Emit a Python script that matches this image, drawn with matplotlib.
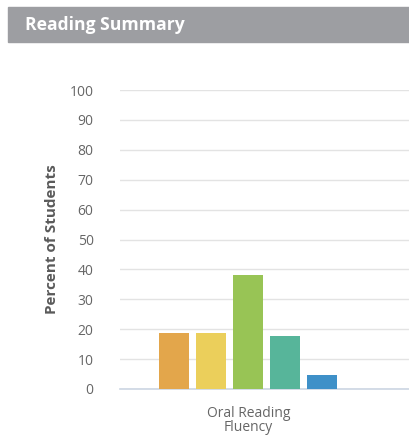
import matplotlib
matplotlib.use("Agg")
import matplotlib.pyplot as plt
from matplotlib.patches import Rectangle

plt.rcParams['font.family'] = ['Open Sans', 'DejaVu Sans']

categories = ["Oral Reading\nFluency"]
levels = ["L1", "L2", "L3", "L4", "L5"]
values = [18.7, 18.7, 38.2, 17.6, 4.8]
colors = ["#E3A64B", "#EBCF5B", "#98C455", "#57B59A", "#3E90C8"]
yticks = [0, 10, 20, 30, 40, 50, 60, 70, 80, 90, 100]

W, H = 409, 437
fig = plt.figure(figsize=(W / 100, H / 100), dpi=100)

# header band
fig.patches.append(Rectangle((8 / W, 1 - 42 / H), (W - 8) / W, 35 / H,
                             transform=fig.transFigure, color="#9D9EA2", zorder=0))
fig.text(25 / W, 1 - 25 / H, "Reading Summary", color="white", fontsize=12.6,
         fontweight="bold", va="center", ha="left")

ax = fig.add_axes([120 / W, (H - 389) / H, (W - 120) / W, (389 - 90) / H])
step = 1.0
width = 30 / 37
offsets = [(i - 2) * step for i in range(len(values))]
for off, v, c in zip(offsets, values, colors):
    ax.bar(off, v, width=width, color=c, zorder=3)

ax.set_xlim(-3.47, 4.34)
ax.set_ylim(0, 100)
ax.set_yticks(yticks)
ax.set_yticklabels([str(t) for t in yticks], color="#666666", fontsize=10)
ax.tick_params(axis="y", length=0, pad=19)
ax.set_xticks([0])
ax.set_xticklabels(categories, color="#666666", fontsize=10, linespacing=0.95)
ax.tick_params(axis="x", length=0, pad=12)
ax.grid(axis="y", color="#E3E3E3", linewidth=1, zorder=0)
for s in ["top", "right", "left"]:
    ax.spines[s].set_visible(False)
ax.spines["bottom"].set_color("#CCD6E3")
ax.spines["bottom"].set_linewidth(1.2)
ax.set_ylabel("Percent of Students", color="#5A5A5A", fontsize=11,
              fontweight="bold", labelpad=8)

fig.savefig("out.png", dpi=100)
